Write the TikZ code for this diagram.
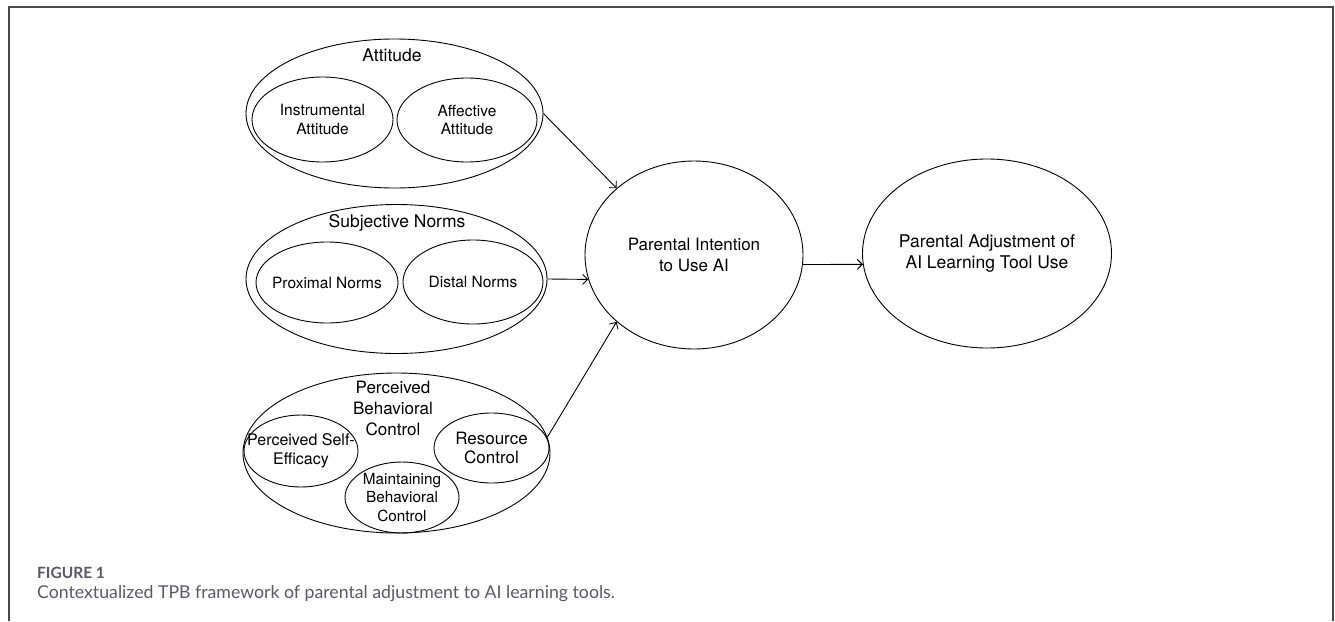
\documentclass[tikz,border=0pt]{standalone}
\usepackage{fontspec}
\setmainfont{TeX Gyre Heros}
\newfontfamily\capfont{Lato}
\newfontfamily\capbold{Lato Bold}
\usetikzlibrary{shapes.geometric,arrows.meta,positioning}
\definecolor{capGray}{rgb}{0.35,0.35,0.38}
\definecolor{frameGray}{rgb}{0.28,0.28,0.28}

\tikzset{
  blob/.style={ellipse,draw,line width=0.9pt,inner sep=0pt},
  lbl/.style={align=center,inner sep=0pt},
  link/.style={line width=0.9pt,-{Straight Barb[length=5pt,width=10pt]}}
}

\begin{document}
\begin{tikzpicture}[x=1pt,y=-1pt]
\useasboundingbox (0,0) rectangle (1335,621);

% panel frame (open at the bottom)
\draw[frameGray,line width=1.6pt] (9,621) -- (9,7) -- (1333,7) -- (1333,621);

% the three construct groups
\node[blob,minimum width=297pt,minimum height=149pt] (att)  at (394.5,113.5) {};
\node[blob,minimum width=301pt,minimum height=149pt] (subj) at (396.5,279)   {};
\node[blob,minimum width=307pt,minimum height=160pt] (pbc)  at (396.5,453)   {};

\node[lbl,font=\fontsize{17.5}{21}\selectfont] (att-title)  at (392,55)  {Attitude};
\node[lbl,font=\fontsize{17.5}{21}\selectfont] (subj-title) at (397,223) {Subjective Norms};
\node[lbl,font=\fontsize{17}{21}\selectfont]   (pbc-title)  at (393,408) {Perceived\\Behavioral\\Control};

% sub-dimensions: name/x/y/rx/ry/font size/text
\foreach \nm/\cx/\cy/\rx/\ry/\fs/\txt in {
  instr/322.5/119.5/70.5/42.5/15.5/{Instrumental\\Attitude},
  affect/467/120/70/42/15.5/{Affective\\Attitude},
  prox/327/282.5/71/40.5/15.5/{Proximal Norms},
  dist/473/282/70/42/15.5/{Distal Norms},
  selfeff/301/451/57/36/16/{Perceived Self-\\Efficacy},
  resource/491.5/448/57.5/35/17/{Resource\\Control},
  maint/402/497.5/57/35.5/15.3/{Maintaining\\Behavioral\\Control}}
{
  \node[blob,minimum width={2*\rx pt},minimum height={2*\ry pt}] (\nm) at (\cx,\cy) {};
  \node[lbl,font=\fontsize{\fs}{18.5}\selectfont] (\nm-text) at (\nm) {\txt};
}

% intention and outcome
\node[blob,minimum width=218pt,minimum height=188pt,
      font=\fontsize{17}{21}\selectfont,align=center] (intent) at (694,255)
      {Parental Intention\\to Use AI};
\node[blob,minimum width=220pt,minimum height=189pt,
      font=\fontsize{17.5}{21}\selectfont,align=center] (adj) at (987,253.5)
      {Parental Adjustment of\\AI Learning Tool Use};

% paths
\draw[link] (att.east) -- (intent.north west);
\draw[link] (subj.east) -- (intent.193);
\draw[link] (pbc.6) -- (intent.south west);
\draw[link] (intent.-5) -- (adj.185);

% caption
\node[anchor=west,inner sep=0pt,text=capGray] (fig-num) at (37,573)
  {\capbold\fontsize{15.5}{18}\selectfont FIGURE 1};
\node[anchor=west,inner sep=0pt,text=capGray] (fig-cap) at (37,594)
  {\capfont\fontsize{17.7}{20}\selectfont Contextualized TPB framework of parental adjustment to AI learning tools.};
\end{tikzpicture}
\end{document}
